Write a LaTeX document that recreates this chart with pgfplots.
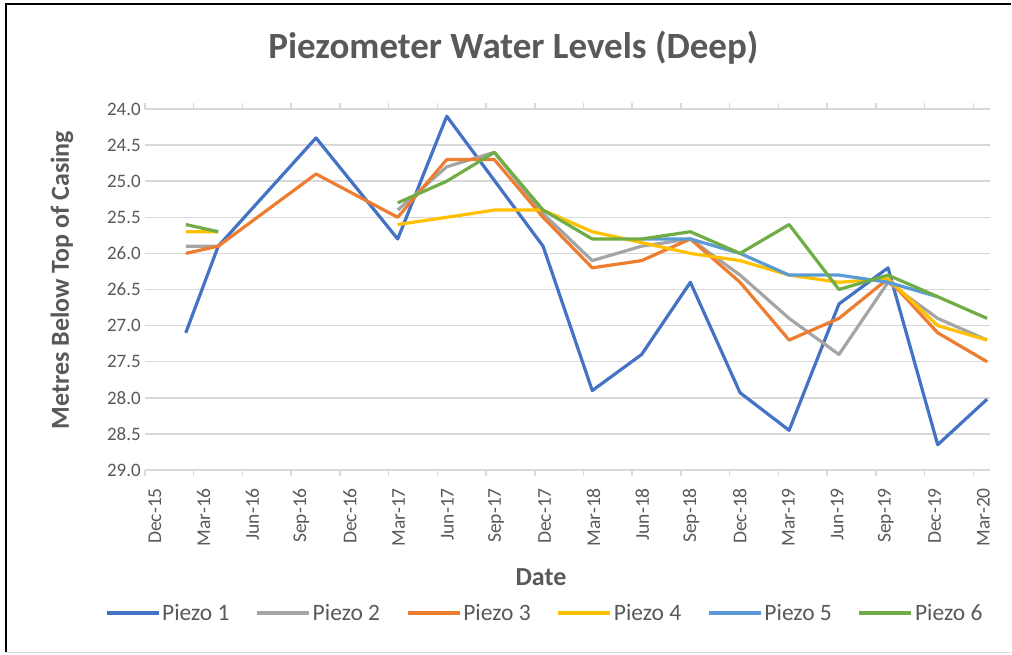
\documentclass[border=0pt]{standalone}
\usepackage{pgfplots}
\pgfplotsset{compat=1.18}
\usepackage{fontspec}
\setmainfont{Carlito}
\definecolor{p1}{HTML}{4472C4}
\definecolor{p2}{HTML}{A5A5A5}
\definecolor{p3}{HTML}{ED7D31}
\definecolor{p4}{HTML}{FFC000}
\definecolor{p5}{HTML}{5B9BD5}
\definecolor{p6}{HTML}{70AD47}
\definecolor{txt}{HTML}{595959}
\definecolor{gridc}{HTML}{D9D9D9}
\begin{document}
\begin{tikzpicture}
\useasboundingbox (-145pt,-184pt) rectangle (867pt,470pt);
\draw[black, line width=2pt] (-139pt,-182pt) -- (-139pt,466pt) -- (866pt,466pt);
\draw[gridc, line width=1pt] (-139pt,-182pt) -- (866pt,-182pt);
\begin{axis}[
  at={(0pt,0pt)}, anchor=south west,
  width=845pt, height=361pt, scale only axis,
  xmin=0, xmax=52.03, ymin=24, ymax=29, y dir=reverse,
  axis line style={draw=none},
  ymajorgrids, grid style={line width=1.5pt, color=gridc},
  ytick={24,24.5,25,25.5,26,26.5,27,27.5,28,28.5,29},
  /pgf/number format/fixed, /pgf/number format/fixed zerofill,
  /pgf/number format/precision=1, /pgf/number format/assume math mode=true,
  y tick label style={font=\fontsize{19}{23}\selectfont, text=txt, inner sep=0pt},
  yticklabel shift=-2pt,
  ytick style={draw=none},
  xtick={0,3,...,51},
  xticklabels={Dec-15,Mar-16,Jun-16,Sep-16,Dec-16,Mar-17,Jun-17,Sep-17,Dec-17,Mar-18,Jun-18,Sep-18,Dec-18,Mar-19,Jun-19,Sep-19,Dec-19,Mar-20},
  x tick label style={font=\fontsize{19.5}{23}\selectfont, text=txt, inner sep=0pt, xshift=10pt, rotate=90, anchor=east},
  xticklabel shift=12pt,
  xtick style={draw=gridc, line width=1.5pt},
  tick align=outside, major tick length=6pt,
  unbounded coords=jump,
  every axis plot/.append style={line width=3.2pt, line join=round, mark=none},
  legend columns=6,
  legend style={at={(0.473,-0.396)}, anchor=center, draw=none, fill=none,
    font=\fontsize{23.5}{28}\selectfont, text=txt,
    /tikz/every even column/.append style={column sep=24pt}},
  legend image code/.code={\draw[#1, line width=3.2pt] (0pt,0pt) -- (52pt,0pt);},
]
\addplot[p1] coordinates {(2.51,27.1) (4.51,25.9) (10.53,24.4) (15.56,25.8) (18.58,24.1) (24.51,25.9) (27.54,27.9) (30.58,27.4) (33.58,26.4) (36.64,27.93) (39.66,28.45) (42.73,26.7) (45.75,26.2) (48.81,28.65) (51.85,28.02)};
\addlegendentry{Piezo 1}
\addplot[p2] coordinates {(2.51,25.9) (4.51,25.9) (10.53,nan) (15.56,25.4) (18.58,24.8) (21.51,24.6) (24.51,25.45) (27.54,26.1) (30.58,25.9) (33.58,25.8) (36.64,26.3) (39.66,26.9) (42.73,27.4) (45.75,26.4) (48.81,26.9) (51.85,27.2)};
\addlegendentry{Piezo 2}
\addplot[p3] coordinates {(2.51,26.0) (4.51,25.9) (10.53,24.9) (15.56,25.5) (18.58,24.7) (21.51,24.7) (24.51,25.5) (27.54,26.2) (30.58,26.1) (33.58,25.8) (36.64,26.4) (39.66,27.2) (42.73,26.9) (45.75,26.35) (48.81,27.1) (51.85,27.5)};
\addlegendentry{Piezo 3}
\addplot[p4] coordinates {(2.51,25.7) (4.51,25.7) (10.53,nan) (15.56,25.6) (18.58,25.5) (21.51,25.4) (24.51,25.4) (27.54,25.7) (30.58,25.85) (33.58,26.0) (36.64,26.1) (39.66,26.3) (42.73,26.4) (45.75,26.35) (48.81,27.0) (51.85,27.2)};
\addlegendentry{Piezo 4}
\addplot[p5] coordinates {(30.58,25.8) (33.58,25.8) (36.64,26.0) (39.66,26.3) (42.73,26.3) (45.75,26.4) (48.81,26.6)};
\addlegendentry{Piezo 5}
\addplot[p6] coordinates {(2.51,25.6) (4.51,25.7) (10.53,nan) (15.56,25.3) (18.58,25.0) (21.51,24.6) (24.51,25.4) (27.54,25.8) (30.58,25.8) (33.58,25.7) (36.64,26.0) (39.66,25.6) (42.73,26.5) (45.75,26.3) (48.81,26.6) (51.85,26.9)};
\addlegendentry{Piezo 6}
\end{axis}
\node[font=\fontsize{37}{44}\selectfont\bfseries, text=txt] at (368.5pt,422pt) {Piezometer Water Levels (Deep)};
\node[font=\fontsize{26}{31}\selectfont\bfseries, text=txt] at (396pt,-107pt) {Date};
\node[font=\fontsize{26}{31}\selectfont\bfseries, text=txt, rotate=90] at (-83pt,190pt) {Metres Below Top of Casing};
\end{tikzpicture}
\end{document}
